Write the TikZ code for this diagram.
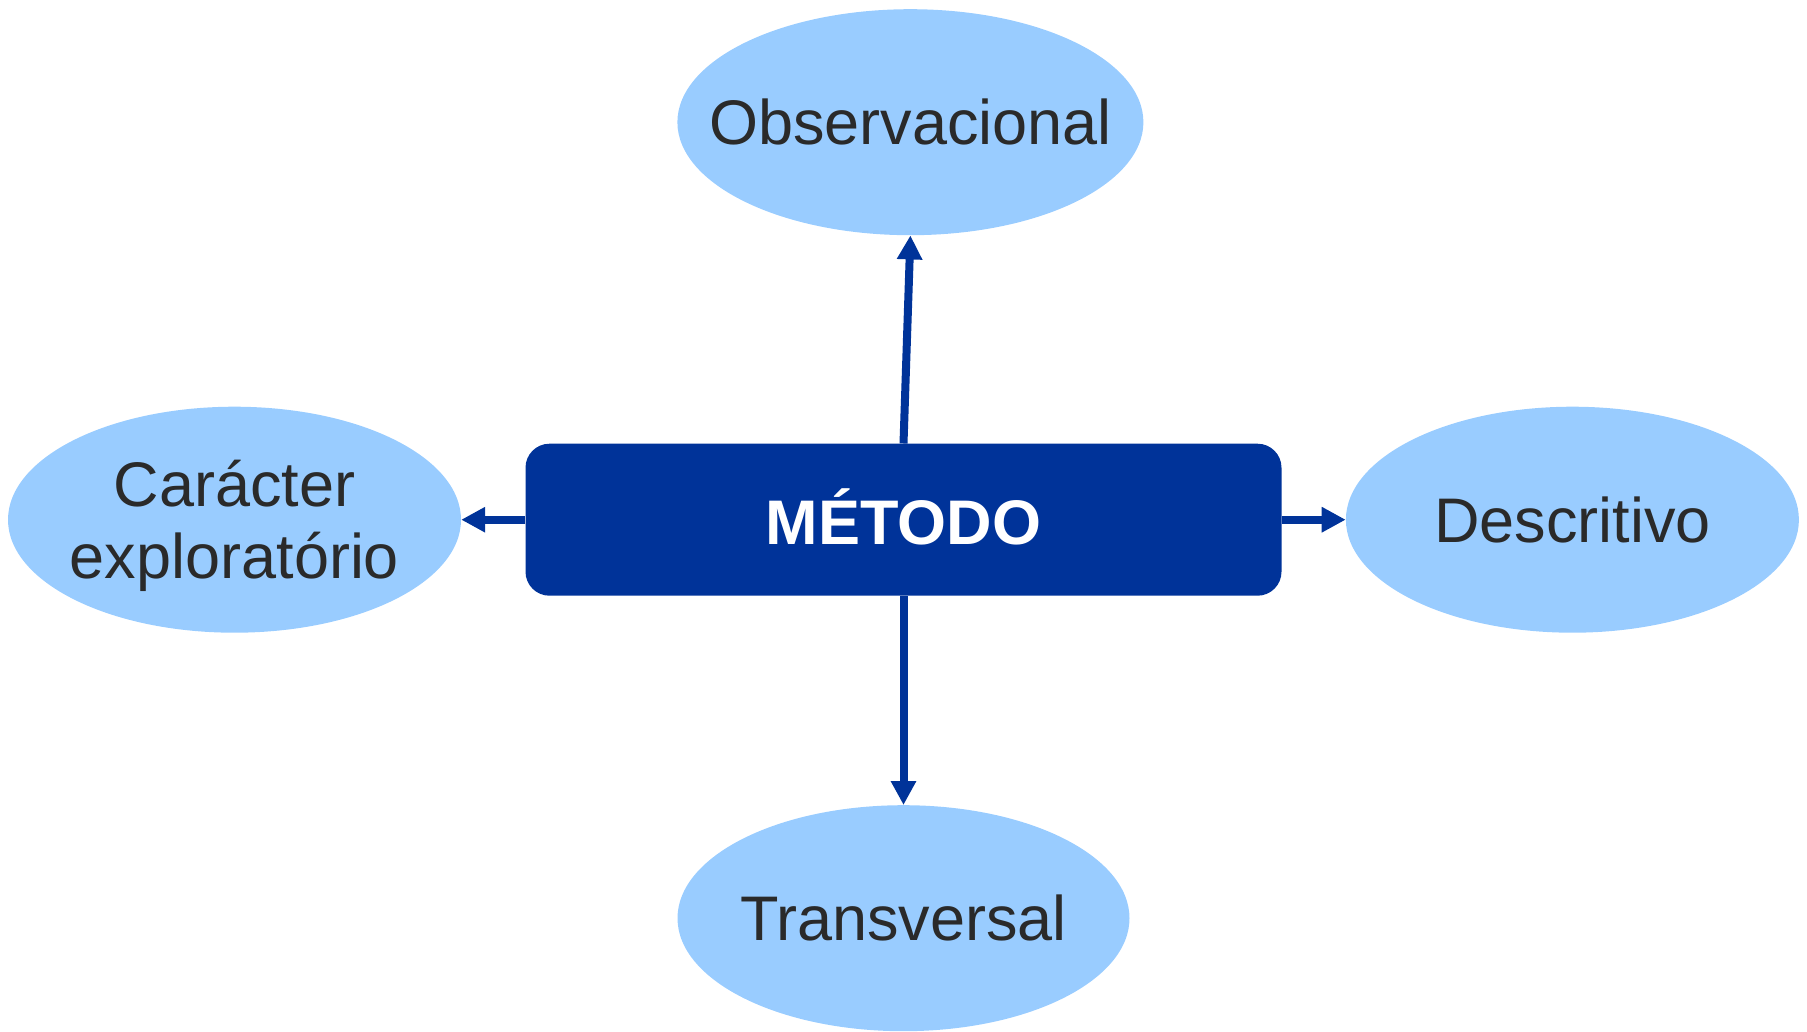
\documentclass[tikz,border=0pt]{standalone}
\usepackage{fontspec}
\setmainfont{Liberation Sans}
\usetikzlibrary{shapes.geometric,arrows.meta}
\definecolor{bubble}{HTML}{99CCFF}
\definecolor{navy}{HTML}{003399}
\definecolor{ink}{HTML}{2A2A2A}
\begin{document}
\begin{tikzpicture}[x=1pt,y=-1pt,
  bubble/.style={ellipse, fill=bubble, draw=none, inner sep=0pt},
  label/.style={text=ink, font=\fontsize{63}{72.6}\selectfont, align=center, inner sep=0pt},
  core/.style={rectangle, rounded corners=24pt, fill=navy, draw=none, inner sep=0pt,
    minimum width=756pt, minimum height=152pt},
  corelabel/.style={text=white, inner sep=0pt, font=\fontsize{63}{72}\selectfont\bfseries},
  link/.style={navy, line width=8pt, -{Triangle[length=24pt,width=24pt]}}]
  \useasboundingbox (0,0) rectangle (1807,1031);

  % outer topics
  \node[bubble, minimum width=466pt, minimum height=226pt] (obs) at (910.4,122.2) {};
  \node[bubble, minimum width=453pt, minimum height=226pt] (car) at (234.5,519.7) {};
  \node[bubble, minimum width=453pt, minimum height=226pt] (des) at (1572.4,519.7) {};
  \node[bubble, minimum width=452pt, minimum height=226pt] (tra) at (903.5,918.2) {};

  \node[label] (obsT) at (obs) {Observacional};
  \node[label] (carT) at ([yshift=-6pt]car.center) {Carácter\\exploratório};
  \node[label] (desT) at (des) {Descritivo};
  \node[label] (traT) at (tra) {Transversal};

  % central box
  \node[core] (met) at (903.5,519.7) {};
  \node[corelabel] (metT) at ([yshift=3pt]met.center) {MÉTODO};

  % connectors
  \draw[link] (met.north) -- (obs.south);
  \draw[link] (met.south) -- (tra.north);
  \draw[link] (met.west) -- (car.east);
  \draw[link] (met.east) -- (des.west);
\end{tikzpicture}
\end{document}
